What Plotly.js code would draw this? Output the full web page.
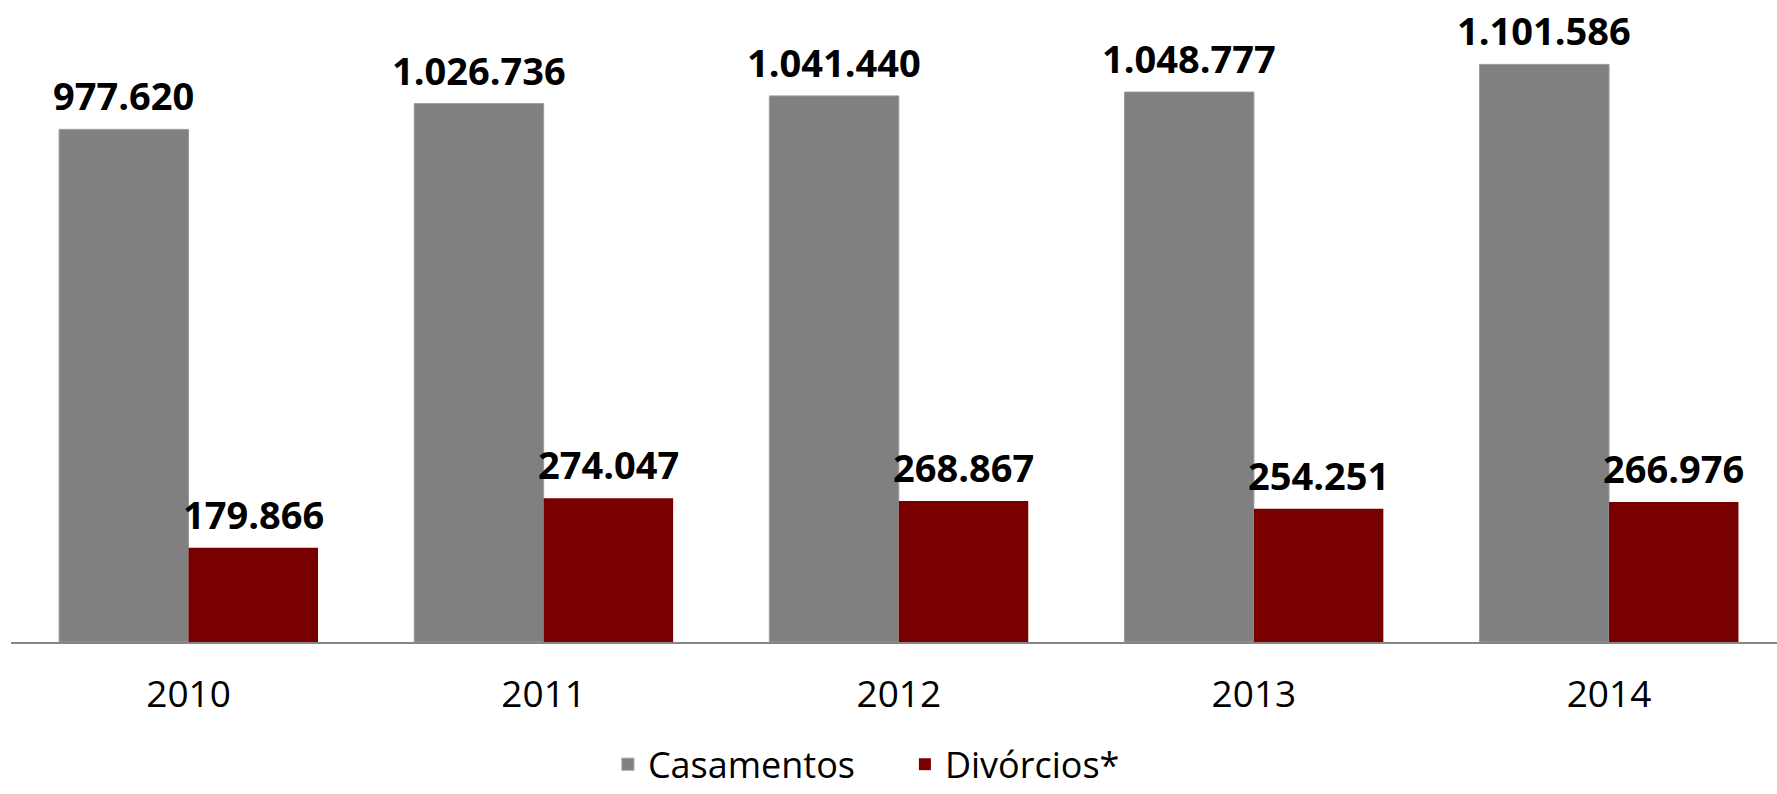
<!DOCTYPE html>
<html>
<head>
<meta charset="utf-8">
<script src="https://cdn.plot.ly/plotly-3.0.1.min.js"></script>
<style>html,body{margin:0;padding:0;background:#fff;}#chart{width:1777px;height:794px;}</style>
</head>
<body>
<div id="chart"></div>
<script>
var years = ['2010', '2011', '2012', '2013', '2014'];
var casamentos = [977620, 1026736, 1041440, 1048777, 1101586];
var divorcios = [179866, 274047, 268867, 254251, 266976];
var seriesNames = ['Casamentos', 'Divórcios*'];
var seriesColors = ['#808080', '#780000'];

function fmt(v) {
  return String(v).replace(/\B(?=(\d{3})+(?!\d))/g, '.');
}

var traces = [
  {type: 'bar', name: seriesNames[0], x: years, y: casamentos,
   marker: {color: seriesColors[0], line: {color: '#9a9a9a', width: 1}}, hoverinfo: 'x+y'},
  {type: 'bar', name: seriesNames[1], x: years, y: divorcios,
   marker: {color: seriesColors[1]}, hoverinfo: 'x+y'}
];

var annotations = [];
[casamentos, divorcios].forEach(function (vals, si) {
  vals.forEach(function (v, i) {
    annotations.push({
      x: i, y: v, xref: 'x', yref: 'y',
      text: '<b>' + fmt(v) + '</b>', showarrow: false,
      xanchor: 'center', yanchor: 'bottom',
      xshift: si === 0 ? -64.7 : 64.7, yshift: 6,
      font: {family: 'Open Sans', size: 38, color: '#000'}
    });
  });
});

var layout = {
  width: 1777, height: 794, autosize: false,
  margin: {l: 11, r: 0, t: 10, b: 152, pad: 0, autoexpand: false},
  paper_bgcolor: '#fff', plot_bgcolor: '#fff',
  barmode: 'group', bargap: 0.271, bargroupgap: 0,
  separators: ',.',
  font: {family: 'Open Sans', color: '#000'},
  xaxis: {
    type: 'category', range: [-0.5, 4.473],
    showline: true, linecolor: '#868686', linewidth: 2,
    ticks: '', showgrid: false, zeroline: false,
    tickfont: {family: 'Open Sans', size: 37, color: '#000'},
    ticklabelstandoff: 19
  },
  yaxis: {
    range: [0, 1205300], visible: false, showgrid: false, zeroline: false
  },
  showlegend: true,
  legend: {
    orientation: 'h', x: 0.338, xanchor: 'left', y: -0.146, yanchor: 'top',
    font: {family: 'Open Sans', size: 36, color: '#000'},
    itemsizing: 'trace', traceorder: 'normal',
    entrywidth: 252, entrywidthmode: 'pixels'
  },
  annotations: annotations
};

Plotly.newPlot('chart', traces, layout, {displayModeBar: false, staticPlot: true});
</script>
</body>
</html>
